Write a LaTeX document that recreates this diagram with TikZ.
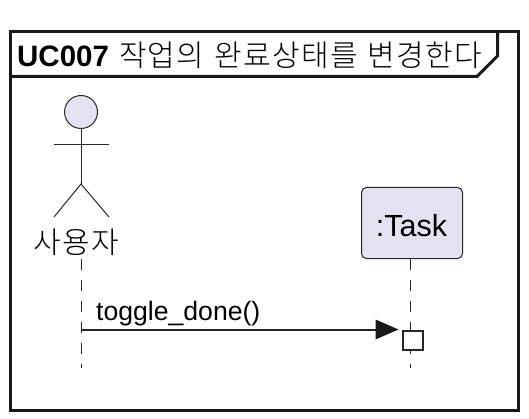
\documentclass[tikz,border=0pt]{standalone}
\usepackage{fontspec}
\setmainfont{Liberation Sans}
\newfontfamily\krfont{Noto Sans CJK KR Light}[LetterSpace=4.5]
\definecolor{actfill}{RGB}{226,226,240}
\tikzset{
  x=1pt,y=-1pt,
  framepath/.style={draw=black!90,line width=3pt,line join=miter},
  fig/.style={draw=black!85,line width=1pt},
  life/.style={draw=black!85,line width=1pt,dash pattern=on 11pt off 10pt},
  lbl/.style={inner sep=0pt,text=black},
}
\begin{document}
\begin{tikzpicture}
\useasboundingbox (0,0) rectangle (529,419);
\coordinate (fnw) at (10.5,31.5);
\coordinate (fse) at (518.5,410);
\draw[framepath] (fnw) rectangle (fse);
\coordinate (t1) at (497.5,31.5);
\coordinate (t2) at (497.5,56);
\coordinate (t3) at (477,76.5);
\coordinate (t4) at (10.5,76.5);
\draw[framepath] (t1) -- (t2) -- (t3) -- (t4);
\node[lbl,anchor=base west,font=\fontsize{29.5}{32}\selectfont] (title) at (17,66.7) {\textbf{UC007}\hspace{10pt}{\fontsize{30}{32}\selectfont\krfont 작업의\hspace{10.5pt}완료상태를\hspace{9.5pt}변경한다}};
% actor
\node[draw=black!85,fill=actfill,circle,minimum size=33pt,inner sep=0pt,line width=1pt] (head) at (81,112) {};
\coordinate (neck) at (81,184);
\coordinate (armL) at (54,145);
\coordinate (armR) at (109,145);
\coordinate (legL) at (54,217);
\coordinate (legR) at (109,217);
\draw[fig] (head.south) -- (neck);
\draw[fig] (armL) -- (armR);
\draw[fig] (legL) -- (neck) -- (legR);
\node[lbl,font=\fontsize{30}{32}\selectfont] (user) at (76.5,242) {\krfont 사용자};
% task
\node[draw=black!85,fill=actfill,rounded corners=5pt,line width=1pt,minimum width=101pt,minimum height=71pt,inner sep=0pt,anchor=north west] (task) at (361,187) {};
\node[lbl,anchor=base,font=\fontsize{30.5}{34}\selectfont] (tasklbl) at (411.5,236.7) {:Task};
% lifelines
\coordinate (u1) at (81,259);
\coordinate (u2) at (81,368);
\coordinate (t5) at (410.5,259);
\coordinate (t6) at (410.5,368);
\draw[life] (u1) -- (u2);
\draw[life] (t5) -- (t6);
% message
\coordinate (m1) at (81,329.5);
\coordinate (m2) at (377,329.5);
\coordinate (tip) at (398.5,329.5);
\draw[draw=black!85,line width=2pt] (m1) -- (m2);
\fill[black!90] (tip) -- (375.5,319.5) -- (375.5,339.5) -- cycle;
\node[draw=black!85,line width=2pt,fill=white,minimum width=20pt,minimum height=19pt,inner sep=0pt,anchor=north west] (act) at (401.5,329.5) {};
\node[lbl,anchor=base west,font=\fontsize{26.6}{30}\selectfont] (msg) at (96,320.5) {toggle\_done()};
\end{tikzpicture}
\end{document}
